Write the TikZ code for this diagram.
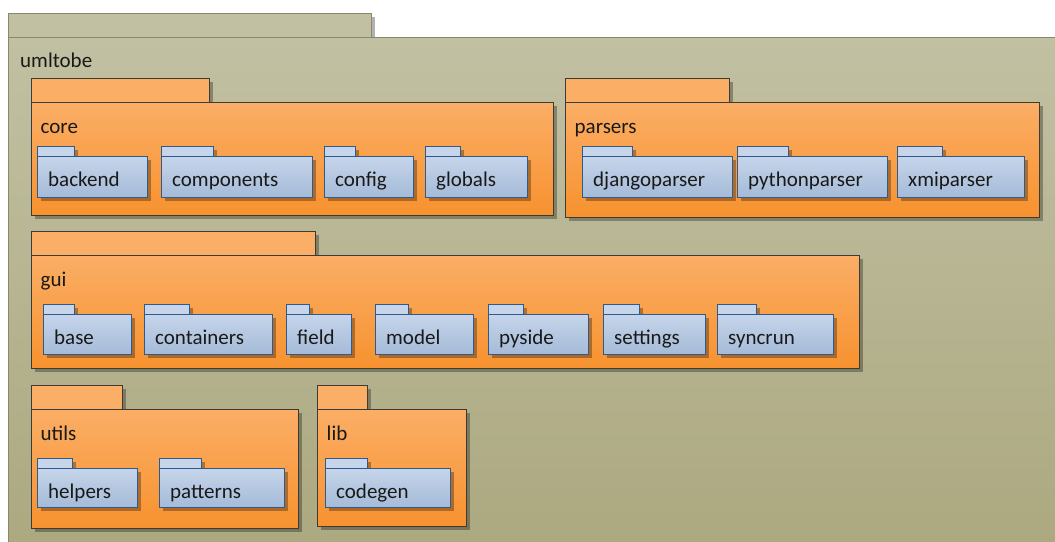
\documentclass[tikz,border=0pt]{standalone}
\usepackage{fontspec}
\setmainfont{Carlito}
\usetikzlibrary{shadows}

\definecolor{olivetop}{HTML}{C1C0A2}
\definecolor{olivebot}{HTML}{ABA87F}
\definecolor{oliveedge}{HTML}{8A8868}
\definecolor{orangetop}{HTML}{FBAE66}
\definecolor{orangebot}{HTML}{F7922F}
\definecolor{orangeedge}{HTML}{3F3A33}
\definecolor{bluetop}{HTML}{C6D5EA}
\definecolor{bluebot}{HTML}{A5BBD8}
\definecolor{blueedge}{HTML}{2E5A8E}

\tikzset{
  pkg/.style={rectangle, inner sep=0pt, outer sep=0pt, line width=0.9pt,
    drop shadow={shadow xshift=4pt, shadow yshift=-4pt, fill=black, opacity=0.3}},
  outer/.style={pkg, draw=oliveedge, top color=olivetop, bottom color=olivebot},
  outer tab/.style={pkg, draw=oliveedge, fill=olivetop, minimum height=24pt},
  outer label/.style={anchor=base west, inner sep=0pt, xshift=12pt, yshift=-30pt},
  group/.style={pkg, draw=orangeedge, top color=orangetop, bottom color=orangebot},
  group tab/.style={pkg, draw=orangeedge, fill=orangetop, minimum height=24pt},
  group label/.style={anchor=base west, inner sep=0pt, xshift=9.5pt, yshift=-31pt},
  item/.style={pkg, draw=blueedge, top color=bluetop, bottom color=bluebot},
  item tab/.style={pkg, draw=blueedge, fill=bluetop, minimum height=10pt},
  item label/.style={anchor=base west, inner sep=0pt, xshift=11pt, yshift=-30pt},
}

% name, kind, x, y, width, height, tab width, label
\newcommand{\umlpkg}[8]{%
  \node[#2 tab, minimum width=#7pt, anchor=south west] (#1tab) at (#3,#4) {};
  \node[#2, minimum width=#5pt, minimum height=#6pt, anchor=north west] (#1) at (#3,#4) {};
  \node[#2 label] (#1label) at (#1.north west) {#8};
}

\begin{document}
\begin{tikzpicture}[x=1pt, y=-1pt, every node/.style={font=\fontsize{21}{25}\selectfont, text=black!90}]
  \useasboundingbox[fill=white] (0,0) rectangle (1055,541);
  \clip (0,0) rectangle (1055,541);

  \umlpkg{umltobe}{outer}{8}{37}{1070}{530}{363}{umltobe}

  % core
  \umlpkg{core}{group}{31}{102}{522}{113}{178}{core}
  \umlpkg{backend}{item}{37}{156}{110}{41}{37}{backend}
  \umlpkg{components}{item}{161}{156}{151}{41}{52}{components}
  \umlpkg{config}{item}{324}{156}{89}{41}{31}{config}
  \umlpkg{globals}{item}{425}{156}{102}{41}{35}{globals}

  % parsers
  \umlpkg{parsers}{group}{565}{102}{474}{115}{164}{parsers}
  \umlpkg{djangoparser}{item}{582}{156}{150}{41}{50}{djangoparser}
  \umlpkg{pythonparser}{item}{737}{156}{150}{41}{51}{pythonparser}
  \umlpkg{xmiparser}{item}{897}{156}{127}{41}{45}{xmiparser}

  % gui
  \umlpkg{gui}{group}{31}{255}{828}{113}{284}{gui}
  \umlpkg{base}{item}{43}{314}{88}{40}{31}{base}
  \umlpkg{containers}{item}{144}{314}{128}{40}{45}{containers}
  \umlpkg{field}{item}{286}{314}{65}{40}{23}{field}
  \umlpkg{model}{item}{375}{314}{98}{40}{33}{model}
  \umlpkg{pyside}{item}{488}{314}{100}{40}{35}{pyside}
  \umlpkg{settings}{item}{603}{314}{102}{40}{36}{settings}
  \umlpkg{syncrun}{item}{717}{314}{116}{40}{39}{syncrun}

  % utils
  \umlpkg{utils}{group}{31}{409}{267}{119}{91}{utils}
  \umlpkg{helpers}{item}{37}{468}{100}{39}{35}{helpers}
  \umlpkg{patterns}{item}{159}{468}{125}{39}{42}{patterns}

  % lib
  \umlpkg{lib}{group}{317}{409}{149}{117}{50}{lib}
  \umlpkg{codegen}{item}{325}{468}{125}{39}{42}{codegen}
\end{tikzpicture}
\end{document}
